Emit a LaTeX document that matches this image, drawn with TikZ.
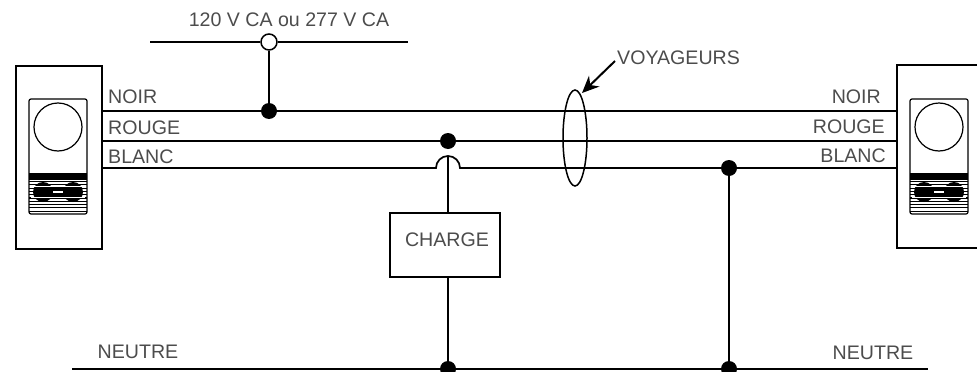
\documentclass[tikz,border=0pt]{standalone}
\usepackage{fontspec}
\setmainfont{Liberation Sans}
\usetikzlibrary{arrows.meta,shapes.geometric}
\definecolor{txt}{gray}{0.3}
\tikzset{
  wire/.style={draw=black,line width=1.7pt},
  thin wire/.style={draw=black,line width=1.3pt},
  dot/.style={circle,fill=black,draw=none,minimum size=16pt,inner sep=0pt},
  opendot/.style={circle,fill=white,draw=black,line width=1.5pt,minimum size=16pt,inner sep=0pt},
  lbl/.style={text=txt,font=\fontsize{19.6}{22}\selectfont,inner sep=0pt},
  boxed/.style={draw=black,line width=1.5pt,fill=white},
}
\newcommand{\sensor}[1]{%
  \begin{scope}[shift={(#1,0)}]
    \draw[line width=1.2pt,rounded corners=2pt] (0,99) rectangle (58,214);
    \draw[line width=1.2pt] (29,127) circle (24);
    \fill[black] (0,173) rectangle (58,180);
    \foreach \yy in {181.5,184.8,...,212} {\draw[black,line width=1.1pt] (0,\yy) -- (58,\yy);}
    \fill[black] (14,192) circle (10);
    \fill[black] (44,192) circle (10);
    \fill[black] (14,187) rectangle (44,197);
    \fill[white] (24,190.5) rectangle (34,192.5);
    \foreach \yy in {186.5,197.5} {\draw[white,line width=0.6pt] (2,\yy) -- (56,\yy);}
  \end{scope}}
\begin{document}
\begin{tikzpicture}[x=1pt,y=-1pt]
\useasboundingbox (0,0) rectangle (977,372);
\clip (0,0) rectangle (977,372);
% devices
\node[draw=black,line width=1.5pt,minimum width=86pt,minimum height=183pt,inner sep=0pt,anchor=north west] (devL) at (15,65) {};
\draw[line width=1.5pt] (985,65) -- (897,65) -- (897,248) -- (985,248);
\sensor{29}
\sensor{910}
% coordinates on device sides
\coordinate (ln) at (101,111); \coordinate (lr) at (101,141); \coordinate (lb) at (101,168);
\coordinate (rn) at (897,111); \coordinate (rr) at (897,141); \coordinate (rb) at (897,168);
% junctions
\node[opendot] (src) at (269,42) {};
\node[dot] (jn) at (269,111) {};
\node[dot] (jr) at (448,141) {};
\node[dot] (jb) at (729,168) {};
\node[dot] (jnl) at (448,369) {};
\node[dot] (jnr) at (729,369) {};
\node[boxed,minimum width=110pt,minimum height=64pt,inner sep=0pt] (load) at (445,245) {};
\node[lbl] at (447,240) {CHARGE};
% wires
\coordinate (sl) at (150,42); \coordinate (sr) at (408,42);
\draw[thin wire] (sl) -- (src) -- (sr);
\draw[wire] (src) -- (jn);
\draw[wire] (ln) -- (rn);
\draw[wire] (lr) -- (rr);
\coordinate (hopL) at (436,168);
\draw[wire] (lb) -- (hopL) arc[start angle=180,end angle=360,radius=12] -- (rb);
\coordinate (hopT) at (448,156);
\draw[wire] (hopT) -- (load.north -| hopT);
\draw[wire] (load.south -| jnl) -- (jnl);
\draw[wire] (jb) -- (jnr);
\coordinate (nl) at (72,369); \coordinate (nr) at (928,369);
\draw[wire] (nl) -- (nr);
% travellers
\node[draw=black,line width=1.5pt,ellipse,minimum width=24pt,minimum height=96pt,inner sep=0pt] (trav) at (575,138) {};
\node[lbl,anchor=west] (voy) at (617,58) {VOYAGEURS};
\draw[line width=2pt,-{Stealth[length=17pt,width=15pt]}] (615,61) -- (582,93);
% labels
\node[lbl,anchor=base west] at (108,103.5) {NOIR};
\node[lbl,anchor=base west] at (108,134) {ROUGE};
\node[lbl,anchor=base west] at (108,163) {BLANC};
\node[lbl,anchor=base east] at (881,103.5) {NOIR};
\node[lbl,anchor=base east] at (885,133.5) {ROUGE};
\node[lbl,anchor=base east] at (886,162.5) {BLANC};
\node[lbl,anchor=base] at (289,27) {120 V CA ou 277 V CA};
\node[lbl,anchor=base] at (138,358) {NEUTRE};
\node[lbl,anchor=base] at (873,359) {NEUTRE};
\end{tikzpicture}
\end{document}
